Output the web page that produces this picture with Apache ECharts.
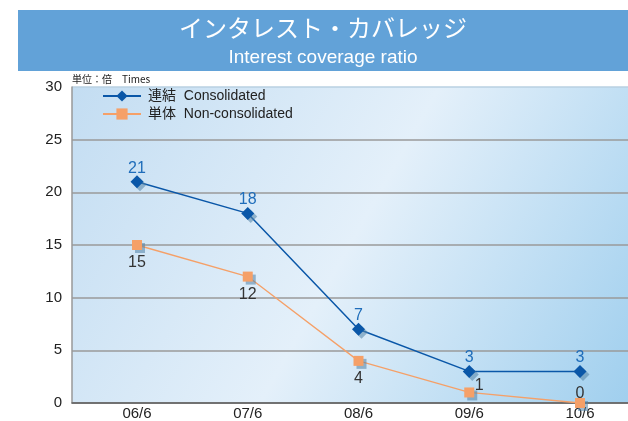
<!DOCTYPE html>
<html>
<head>
<meta charset="utf-8">
<script src="https://cdn.jsdelivr.net/npm/echarts@6/dist/echarts.min.js"></script>
<style>
  html, body { margin: 0; padding: 0; background: #fff; }
  #chart { width: 628px; height: 421px; }
</style>
</head>
<body>
<div id="chart"></div>
<script>
// データ
const categories = ['06/6', '07/6', '08/6', '09/6', '10/6'];
const consolidated = [21, 18, 7, 3, 3];
const nonConsolidated = [15, 12, 4, 1, 0];
const seriesNames = ['連結  Consolidated', '単体  Non-consolidated'];

const fontLatin = '"Liberation Sans", Arial, "Noto Sans CJK JP", sans-serif';

const mychart = echarts.init(document.getElementById('chart'));

// 単体のラベル位置（1 だけ右上、0 は上）
const nonLabels = nonConsolidated.map((v, i) => {
    if (i === 3) return { value: v, label: { position: 'top', offset: [10, 11] } };
    if (i === 4) return { value: v, label: { position: 'top', distance: -4 } };
    return v;
});

const pointShadow = {
    shadowColor: 'rgba(80,130,165,0.55)',
    shadowOffsetX: 3,
    shadowOffsetY: 3,
    shadowBlur: 0
};

mychart.setOption({
    animation: false,
    textStyle: { fontFamily: fontLatin },
    graphic: [
        {
            type: 'rect',
            shape: { x: 18, y: 10, width: 610, height: 61 },
            style: { fill: '#62A2D8' }
        },
        {
            type: 'text',
            x: 323, y: 28,
            style: {
                text: 'インタレスト・カバレッジ',
                fill: '#fff',
                font: '24px "Noto Sans CJK JP", sans-serif',
                textAlign: 'center',
                textVerticalAlign: 'middle'
            }
        },
        {
            type: 'text',
            x: 323, y: 58,
            style: {
                text: 'Interest coverage ratio',
                fill: '#fff',
                font: '19px ' + fontLatin,
                textAlign: 'center',
                textVerticalAlign: 'middle'
            }
        },
        {
            type: 'text',
            x: 72, y: 79,
            style: {
                text: '単位：倍　Times',
                fill: '#222',
                font: '10px "Noto Sans CJK JP", sans-serif',
                textVerticalAlign: 'middle'
            }
        }
    ],
    legend: {
        orient: 'vertical',
        left: 102,
        top: 89,
        padding: 0,
        itemWidth: 38,
        itemHeight: 14,
        itemGap: 4,
        data: seriesNames,
        textStyle: { fontSize: 14, color: '#222', padding: [0, 0, 0, 2] }
    },
    grid: [
        {
            // 背景とグリッド線
            left: 72, right: 0, top: 87, bottom: 18,
            show: true,
            borderWidth: 0,
            backgroundColor: new echarts.graphic.LinearGradient(0, 0, 1, 1, [
                { offset: 0, color: '#C3DDF2' },
                { offset: 0.5, color: '#E4F0FA' },
                { offset: 1, color: '#A0CFEE' }
            ])
        },
        {
            // データ描画用
            left: 137, right: 48, top: 87, bottom: 18
        }
    ],
    xAxis: [
        {
            gridIndex: 0,
            type: 'value',
            min: 0, max: 1,
            axisLine: { show: true, onZero: false, lineStyle: { color: '#666', width: 1.5 } },
            axisTick: { show: false },
            axisLabel: { show: false },
            splitLine: { show: false }
        },
        {
            gridIndex: 1,
            type: 'category',
            boundaryGap: false,
            data: categories,
            axisLine: { show: false },
            axisTick: { show: false },
            axisLabel: { color: '#222', fontSize: 15, margin: 3 }
        }
    ],
    yAxis: [
        {
            gridIndex: 0,
            type: 'value',
            min: 0, max: 30, interval: 5,
            axisLine: { show: true, lineStyle: { color: '#999', width: 1.5 } },
            axisTick: { show: false },
            axisLabel: { color: '#222', fontSize: 15, margin: 10 },
            splitLine: {
                lineStyle: {
                    color: ['#777', '#9a9a9a', '#9a9a9a', '#9a9a9a', '#9a9a9a', '#9a9a9a', '#b9d0e2'],
                    width: 1.5
                }
            }
        },
        {
            gridIndex: 1,
            type: 'value',
            min: 0, max: 30,
            show: false
        }
    ],
    series: [
        {
            name: seriesNames[0],
            type: 'line',
            xAxisIndex: 1,
            yAxisIndex: 1,
            data: consolidated,
            symbol: 'diamond',
            symbolSize: 13,
            color: '#0A57A8',
            lineStyle: { width: 1.5, color: '#0A57A8' },
            itemStyle: pointShadow,
            label: {
                show: true,
                position: 'top',
                distance: -1,
                color: '#1F6DBA',
                fontSize: 16
            },
            z: 3
        },
        {
            name: seriesNames[1],
            type: 'line',
            xAxisIndex: 1,
            yAxisIndex: 1,
            data: nonLabels,
            symbol: 'rect',
            symbolSize: 10,
            color: '#F5A068',
            lineStyle: { width: 1.3, color: '#F5A068' },
            itemStyle: pointShadow,
            label: {
                show: true,
                position: 'bottom',
                distance: 5,
                color: '#333',
                fontSize: 16
            },
            z: 2
        }
    ]
});
</script>
</body>
</html>
